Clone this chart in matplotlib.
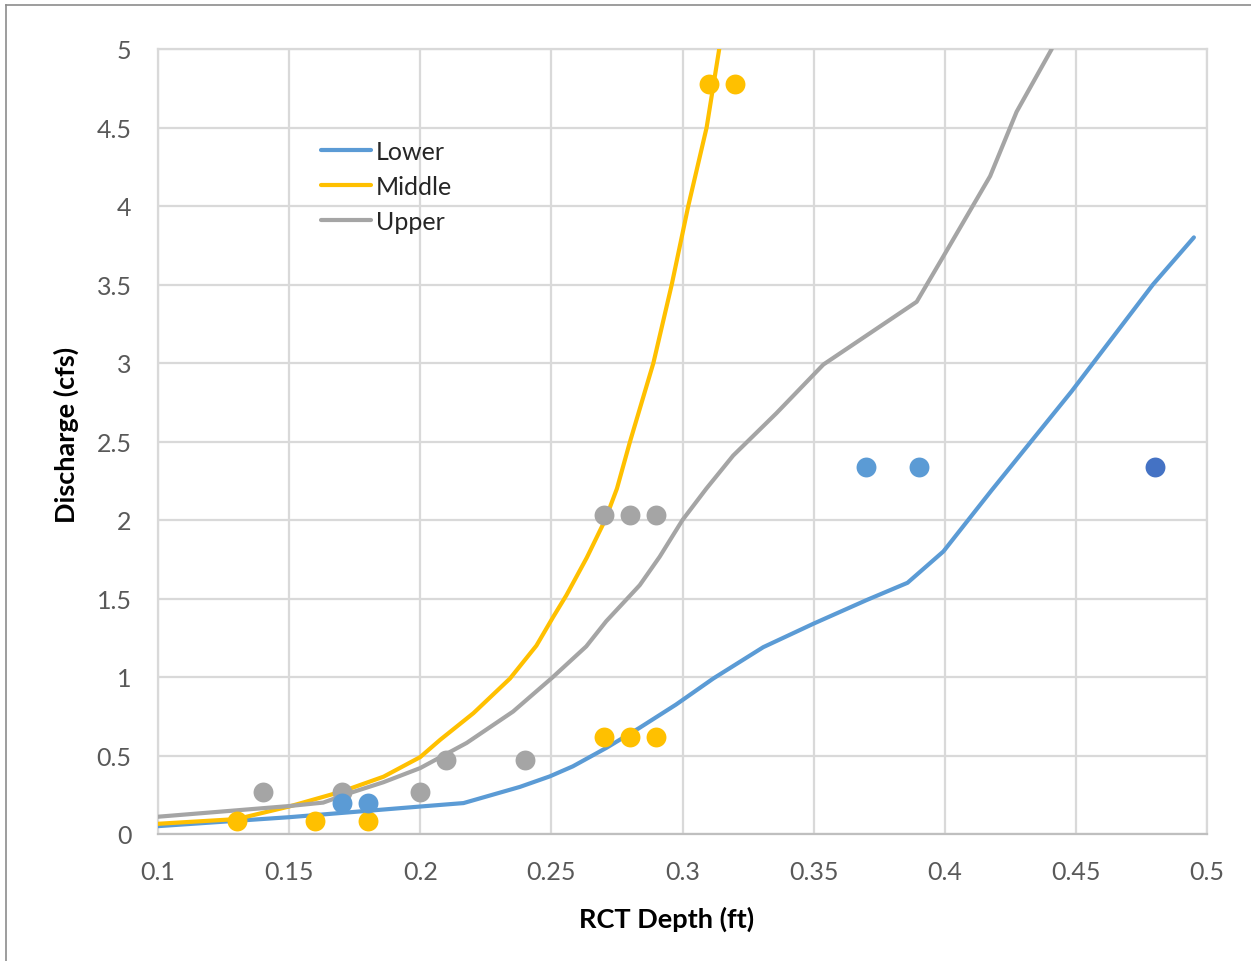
import matplotlib
matplotlib.use("Agg")
import matplotlib.pyplot as plt
from matplotlib.lines import Line2D

plt.rcParams['font.family'] = ['Lato', 'DejaVu Sans']

# Rating curves: RCT depth (ft) vs discharge (cfs)
lower_depth = [0.100, 0.150, 0.200, 0.2165, 0.238, 0.2494, 0.2582, 0.2709, 0.2835,
               0.2975, 0.3117, 0.3308, 0.350, 0.3702, 0.3858, 0.3995, 0.4179,
               0.4484, 0.4794, 0.495]
lower_q = [0.05, 0.107, 0.175, 0.197, 0.30, 0.367, 0.431, 0.548, 0.675,
           0.824, 0.99, 1.19, 1.34, 1.49, 1.60, 1.80, 2.19,
           2.82, 3.50, 3.80]

middle_depth = [0.100, 0.130, 0.150, 0.170, 0.186, 0.200, 0.2076, 0.2203, 0.2342,
                0.2443, 0.2506, 0.2557, 0.2635, 0.2705, 0.275, 0.280, 0.2889,
                0.2959, 0.3022, 0.3092, 0.3140]
middle_q = [0.065, 0.095, 0.175, 0.27, 0.365, 0.49, 0.60, 0.77, 0.99,
            1.20, 1.38, 1.52, 1.76, 2.00, 2.20, 2.50, 3.00,
            3.50, 4.00, 4.50, 5.00]

upper_depth = [0.100, 0.150, 0.163, 0.173, 0.186, 0.200, 0.2177, 0.2354, 0.2506,
               0.2633, 0.2709, 0.2837, 0.2913, 0.300, 0.3091, 0.3193, 0.3358,
               0.3537, 0.3893, 0.3995, 0.4173, 0.4274, 0.4408]
upper_q = [0.11, 0.178, 0.20, 0.26, 0.33, 0.42, 0.58, 0.78, 1.00,
           1.195, 1.355, 1.585, 1.766, 2.00, 2.20, 2.41, 2.68,
           2.99, 3.39, 3.68, 4.19, 4.60, 5.00]

# Field measurements
lower_obs_depth = [0.17, 0.18, 0.37, 0.39]
lower_obs_q = [0.20, 0.20, 2.34, 2.34]
lower_extra_depth = [0.48]
lower_extra_q = [2.34]

middle_obs_depth = [0.13, 0.16, 0.18, 0.27, 0.28, 0.29, 0.31, 0.32]
middle_obs_q = [0.08, 0.08, 0.08, 0.62, 0.62, 0.62, 4.78, 4.78]

upper_obs_depth = [0.14, 0.17, 0.20, 0.21, 0.24, 0.27, 0.28, 0.29]
upper_obs_q = [0.27, 0.27, 0.27, 0.47, 0.47, 2.03, 2.03, 2.03]

series_names = ["Lower", "Middle", "Upper"]
x_ticks = [0.1, 0.15, 0.2, 0.25, 0.3, 0.35, 0.4, 0.45, 0.5]
x_tick_labels = ["0.1", "0.15", "0.2", "0.25", "0.3", "0.35", "0.4", "0.45", "0.5"]
y_ticks = [0, 0.5, 1, 1.5, 2, 2.5, 3, 3.5, 4, 4.5, 5]
y_tick_labels = ["0", "0.5", "1", "1.5", "2", "2.5", "3", "3.5", "4", "4.5", "5"]

BLUE = "#5B9BD5"
DARK_BLUE = "#4472C4"
GOLD = "#FFC000"
GRAY = "#A5A5A5"
TICK = "#595959"
GRID = "#D9D9D9"

fig = plt.figure(figsize=(12.51, 9.62), dpi=100)
ax = fig.add_axes([158 / 1251, 1 - 835 / 962, (1207 - 158) / 1251, (835 - 50) / 962])

lw = 3.0
ax.plot(lower_depth, lower_q, color=BLUE, lw=lw, label=series_names[0],
        solid_capstyle="round", zorder=3)
ax.plot(middle_depth, middle_q, color=GOLD, lw=lw, label=series_names[1],
        solid_capstyle="round", zorder=3)
ax.plot(upper_depth, upper_q, color=GRAY, lw=lw, label=series_names[2],
        solid_capstyle="round", zorder=3)

ms = 205
ax.scatter(upper_obs_depth, upper_obs_q, s=ms, color=GRAY, linewidths=0, zorder=4)
ax.scatter(middle_obs_depth, middle_obs_q, s=ms, color=GOLD, linewidths=0, zorder=5)
ax.scatter(lower_obs_depth, lower_obs_q, s=ms, color=BLUE, linewidths=0, zorder=6)
ax.scatter(lower_extra_depth, lower_extra_q, s=ms, color=DARK_BLUE, linewidths=0, zorder=6)

ax.set_xlim(0.1, 0.5)
ax.set_ylim(0, 5)
ax.set_xticks(x_ticks)
ax.set_xticklabels(x_tick_labels)
ax.set_yticks(y_ticks)
ax.set_yticklabels(y_tick_labels)
ax.tick_params(axis="both", length=0, labelsize=18, labelcolor=TICK)
ax.tick_params(axis="x", pad=19)
ax.tick_params(axis="y", pad=19)

ax.grid(True, color=GRID, lw=1.6, zorder=0)
ax.set_axisbelow(True)
for side in ["left", "right", "top"]:
    ax.spines[side].set_color(GRID)
    ax.spines[side].set_linewidth(1.6)
ax.spines["bottom"].set_color("#BFBFBF")
ax.spines["bottom"].set_linewidth(1.6)

ax.set_xlabel("RCT Depth (ft)", fontsize=19.5, fontweight="bold", color="black")
ax.set_ylabel("Discharge (cfs)", fontsize=19.5, fontweight="bold", color="black")
ax.xaxis.set_label_coords((667 - 158) / 1049, -(907 - 835) / 785)
ax.yaxis.set_label_coords(-(158 - 79) / 1049, (835 - 435) / 785)

leg = ax.legend(loc="upper left", bbox_to_anchor=((321 - 158) / 1049, (835 - 141) / 785),
                frameon=False, fontsize=18, handlelength=2.0, handletextpad=0.2,
                labelspacing=0.48, borderpad=0, borderaxespad=0)
for t in leg.get_texts():
    t.set_color("#262626")

# chart area border (left and top edges)
fig.add_artist(Line2D([6 / 1251, 6 / 1251], [0, 1 - 6 / 962], color="#8C8C8C", lw=1.2,
                      transform=fig.transFigure))
fig.add_artist(Line2D([6 / 1251, 1], [1 - 6 / 962, 1 - 6 / 962], color="#8C8C8C", lw=1.2,
                      transform=fig.transFigure))

fig.savefig("out.png", dpi=100)
